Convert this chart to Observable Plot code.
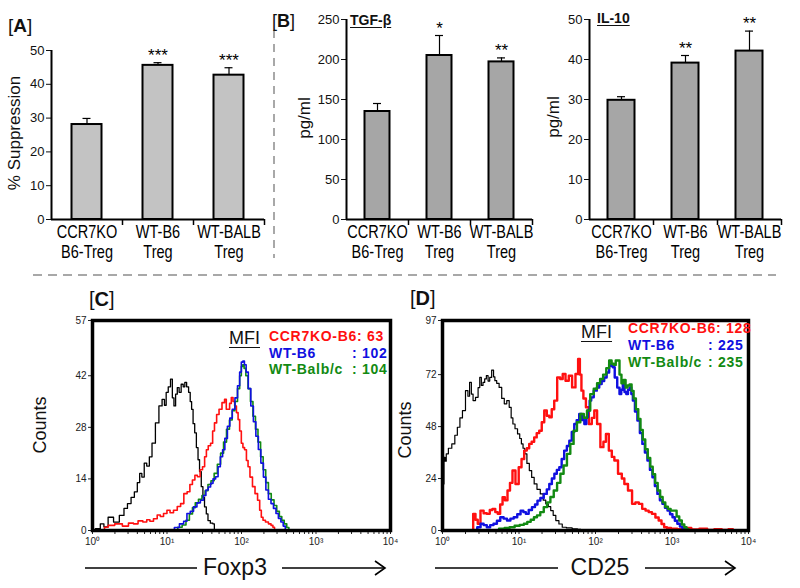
<!DOCTYPE html>
<html><head><meta charset="utf-8">
<script src="https://cdn.jsdelivr.net/npm/d3@7"></script>
<script src="https://cdn.jsdelivr.net/npm/@observablehq/plot@0.6"></script>
<style>
html,body{margin:0;padding:0;background:#fff;}
#root{position:relative;width:800px;height:588px;overflow:hidden;font-family:"Liberation Sans",Arial,sans-serif;color:#111;}
.p{position:absolute;}
.t{position:absolute;white-space:nowrap;line-height:1;}
</style></head><body><div id="root"></div>
<script>
// ---------- data ----------
const catLine1 = ["CCR7KO", "WT-B6", "WT-BALB"];
const catLine2 = ["B6-Treg", "Treg", "Treg"];

const suppression = [28.1, 45.6, 42.7];
const suppressionErr = [1.8, 0.8, 2.2];
const suppressionStars = ["", "***", "***"];

const tgfb = [135, 205, 197];
const tgfbErr = [10, 25, 5];
const tgfbStars = ["", "*", "**"];

const il10 = [29.8, 39.1, 42.1];
const il10Err = [0.9, 1.9, 5.0];
const il10Stars = ["", "**", "**"];

const yTicksA = [0, 10, 20, 30, 40, 50];
const yTicksTGF = [0, 50, 100, 150, 200, 250];
const yTicksIL = [0, 10, 20, 30, 40, 50];

// flow cytometry histograms: [fluorescence, counts]
const foxp3Isotype = [[1,0],[1.2,0.5],[1.35,1.8],[1.5,1],[1.75,3.6],[2.1,2.3],[2.5,4.1],[2.8,6],[3.1,7.3],[3.5,9],[3.8,10.5],[4.2,13],[4.4,15.5],[4.8,14.5],[5.1,18.3],[5.6,17.5],[6,20],[6.6,23.7],[7.4,29.2],[8.2,33.8],[9,35.6],[9.5,34],[10,37.5],[10.8,39],[11.5,41.1],[12.1,36],[12.7,33.8],[13.4,37],[14.1,38.8],[15,37.5],[16,39.7],[17,39],[17.7,40.2],[19,39],[20,37.5],[21,35],[21.8,32.9],[23,29],[24.1,26.5],[25.5,22.5],[26.7,19.2],[28,16],[29.7,11.9],[31,9],[32.8,6.4],[34.6,4.5],[36.4,2.7],[40,2],[42.5,1.8],[44,0]];
const foxp3CCR7KO = [[1.4,0],[1.5,0.9],[1.75,1.4],[2.26,1.8],[2.8,1.2],[3.3,2.0],[3.8,1.8],[4.4,2.6],[5.1,2.3],[5.6,2.9],[6.2,2.5],[7,3.2],[7.8,4.2],[8.5,3.8],[9.5,4.6],[10.5,5.5],[11.5,4.8],[13,5.5],[14.5,6.5],[16,7.3],[17.7,10],[19.6,10.5],[21,12.5],[22.9,13.7],[24.5,15],[26.7,14.6],[29,16.5],[31,17.3],[33,20],[34.6,21.9],[37,23],[40,23.7],[42,27],[44.8,29.2],[48,31.5],[52,32.9],[57.6,34.7],[61,35.6],[64,32.9],[67.5,32.9],[71,34.5],[75,36.1],[79,35],[83,33.8],[88,32],[92,30.1],[97,27],[102,23.7],[107,22.5],[113,21.9],[120,19],[125,17.3],[135,14.5],[146,11.9],[158,10],[171,8.2],[180,5.5],[189,3.6],[200,2.8],[220,2.3],[240,1.8],[258,1.4],[270,0.9],[285,0]];
const foxp3WTB6 = [[11.7,0],[13.5,0.8],[16,1.8],[17.5,2.5],[19.6,4.6],[21.5,5.2],[24,6.4],[26.5,7.5],[29.7,8.2],[32,9.5],[34.6,11],[37,11.8],[40,12.8],[43,14],[47,14.6],[50,17.3],[54,20],[57.6,21.9],[62,25],[67.5,28.3],[72,30.5],[78.6,32.9],[85,36],[92,39.3],[97,43],[102,45.7],[107,46],[112,45],[119,43],[128,38.5],[139,33.8],[150,29.5],[162,25.6],[175,22],[189,18.3],[205,14.5],[220,11],[240,8.5],[258,7.3],[280,6],[301,4.6],[325,3.3],[351,2.3],[375,1.2],[400,0]];
const foxp3WTBalb = [[13,0],[15,0.9],[17,1.5],[19,2.8],[21,4.5],[23,6.2],[25,7.5],[28,8.5],[31,9.5],[34,10.8],[37,12.5],[41,13.5],[45,15.5],[50,18],[55,21],[60,24],[66,27.5],[72,30],[78,32.5],[85,35],[92,38.5],[97,42],[102,44.5],[106,45],[111,44],[118,42],[127,38.5],[137,35],[148,31],[160,27.5],[173,24],[188,20],[203,16.5],[220,13],[240,10],[262,8.3],[285,6.8],[310,5.2],[335,3.8],[360,2.8],[390,1.8],[420,0.8],[445,0]];

const cd25Isotype = [[1,0],[1.01,79],[1.03,21.5],[1.06,33.8],[1.1,32],[1.14,35.4],[1.25,38],[1.4,40],[1.5,44],[1.63,47.7],[1.75,52],[1.9,55.4],[2.1,64.6],[2.2,62],[2.32,68.4],[2.45,63],[2.57,60],[2.84,61.5],[3.0,66],[3.14,70.7],[3.3,67],[3.47,68.4],[3.65,70],[3.84,71.5],[4.05,69],[4.24,70.7],[4.55,74.1],[4.75,71],[4.93,69.2],[5.3,68],[5.7,66.1],[6.2,61],[6.65,58.5],[7.2,60],[7.7,56.9],[8.1,52],[8.55,49.2],[9.2,47],[9.95,44.6],[10.5,42.5],[11,40],[11.6,38],[12.2,35.4],[13.2,31],[14.1,27.7],[15.2,24.5],[16.4,21.5],[18,19],[20,16.9],[21.5,14],[23.3,12.3],[25,11],[27,9.2],[29,7],[31.6,4.6],[35,3],[38.6,1.5],[45,1.2],[54.6,0.8],[62,0.5],[67,0]];
const cd25CCR7KO = [[2.44,0],[2.6,7.7],[2.8,5],[2.98,3.1],[3.3,9.2],[3.6,8],[4,7.7],[4.3,9.5],[4.7,10],[5.1,8.5],[5.45,7.7],[5.9,12],[6.3,15.4],[6.8,14],[7.36,18.5],[7.9,22],[8.55,27.7],[9.45,21.5],[10.4,29.2],[11.2,33],[12.2,36.9],[13.1,38],[14.1,40],[15.2,41],[16.4,43],[17.7,45],[19.1,46.1],[20.6,50],[22.2,55.4],[24,53],[25.8,52.3],[27.8,56],[30,60],[33.2,70.7],[36,70],[38.6,72.3],[42.6,69.2],[47,71.5],[52,66.1],[57.6,72.3],[61,79.2],[64,72],[67,64.6],[72,61],[78,56.9],[86,49.2],[93,52],[100,55.4],[110,49.2],[122,38.5],[132,41],[142,44.6],[157,36.9],[170,34],[183,32.3],[212,26.2],[230,24],[247,21.5],[286,18.5],[316,12.3],[350,13],[387,12.3],[430,10],[473,9.2],[520,8.5],[575,7.7],[640,6],[700,4.6],[760,3],[820,1.5],[900,1.2],[1050,0.8],[1300,0.6],[1600,1.2],[2000,0.5],[2600,0.8],[3200,0.3],[4000,0.6],[5000,0.3],[6000,0.6],[6500,0]];
const cd25WTB6 = [[2.7,0],[3,1.5],[3.3,3.1],[3.6,2.5],[4,1.5],[4.4,2.5],[4.9,3.1],[5.4,4.5],[6,6.1],[6.6,5.5],[7.36,4.6],[8.1,5.5],[9,6.1],[10,7.5],[11,9.2],[11.8,8.5],[12.8,7.7],[14,9.5],[15.6,10.8],[16.8,12],[18.1,13.8],[20,15],[22.2,16.9],[24,19],[25.8,21.5],[28,24],[30,26.2],[32.5,28],[34.8,29.2],[37.5,33],[40.5,36.9],[44,39],[47,41.5],[51,45.5],[54.6,49.2],[59,51],[63.6,53.8],[69,51],[74,49.2],[78,52.3],[81.7,55.4],[86,60],[90,61.5],[100,64.6],[108,66],[116,67.7],[125,69],[135,70.7],[145,73],[157,76.9],[165,76],[172,75.4],[185,70.7],[200,66],[212,63],[222,65],[233,67.7],[246,64],[259,63],[273,65],[288,66.1],[300,63],[316,60],[340,55],[366,50.8],[395,45],[425,40],[460,36],[495,32.3],[535,28],[575,24.6],[620,20.5],[669,16.9],[720,14],[779,12.3],[840,10.5],[907,9.2],[980,7.5],[1050,6.1],[1130,4.5],[1220,3.1],[1320,1.8],[1420,0.8],[1500,0]];
const cd25WTBalb = [[5,0],[6,0.8],[7,1.2],[8.1,1.5],[9.5,2.2],[11,2.6],[12.2,3.1],[13.5,4],[15,5],[16.4,6.1],[18,7],[20,8.5],[22.2,10.8],[24.5,13],[27,15.5],[30,18.5],[33,22],[36.6,26.2],[40,30],[44.8,35.4],[49,40],[54.6,46.1],[60,50],[67,53.8],[74,52],[81,55.4],[90,63],[100,65.5],[110,68],[120,70],[132,72],[145,75],[157,78.5],[168,77],[178,76.5],[190,78.5],[200,78.5],[212,72],[225,68],[240,69.5],[255,66],[270,67],[288,67.5],[305,64.5],[325,61],[350,56],[375,51.5],[400,46.5],[430,42],[465,37.5],[500,33.5],[540,29.5],[580,26],[625,22],[675,18.5],[725,15.5],[785,13],[850,11],[920,10],[1000,9.2],[1100,9.2],[1200,6.5],[1290,4.6],[1400,2.8],[1500,1.5],[1600,0.6],[1700,0]];

const logTicks = [1,2,3,4,5,6,7,8,9,10,20,30,40,50,60,70,80,90,100,200,300,400,500,600,700,800,900,1000,2000,3000,4000,5000,6000,7000,8000,9000,10000];
const logTickLabels = {1: "10⁰", 10: "10¹", 100: "10²", 1000: "10³", 10000: "10⁴"};
const yTicksFoxp3 = [0, 14, 28, 42, 57];
const yTicksCD25 = [0, 24, 48, 72, 97];

const mfiFoxp3 = [["CCR7KO-B6: 63", ""], ["WT-B6", ": 102"], ["WT-Balb/c", ": 104"]];
const mfiCD25 = [["CCR7KO-B6: 128", ""], ["WT-B6", ": 225"], ["WT-Balb/c", ": 235"]];

// ---------- helpers ----------
const root = document.getElementById("root");
const FONT = '"Liberation Sans", Arial, sans-serif';
const labelSet = new Set([...catLine1, ...catLine2]);

function place(node, left, top) {
  const d = document.createElement("div");
  d.className = "p";
  d.style.left = left + "px";
  d.style.top = top + "px";
  d.appendChild(node);
  root.appendChild(d);
}
function addText(html, x, baseline, fs, style = {}) {
  const el = document.createElement("div");
  el.className = "t";
  el.innerHTML = html;
  el.style.left = x + "px";
  el.style.top = (baseline - 0.8465 * fs) + "px";
  el.style.fontSize = fs + "px";
  Object.assign(el.style, style);
  root.appendChild(el);
  return el;
}
function addRotated(text, cx, cy, fs) {
  const el = document.createElement("div");
  el.className = "t";
  el.textContent = text;
  el.style.left = cx + "px";
  el.style.top = cy + "px";
  el.style.fontSize = fs + "px";
  el.style.transform = "translate(-50%,-50%) rotate(-90deg)";
  root.appendChild(el);
}
// narrow the category labels horizontally (the original uses a condensed face)
function condense(svg, k) {
  d3.select(svg).selectAll("text").filter(function () { return labelSet.has(this.textContent); }).each(function () {
    let t = this.getAttribute("transform");
    if (!t) {
      const x = +this.getAttribute("x") || 0, y = +this.getAttribute("y") || 0;
      this.removeAttribute("x"); this.removeAttribute("y");
      t = `translate(${x},${y})`;
    }
    this.setAttribute("transform", t + ` scale(${k},1)`);
  });
  return svg;
}

function barPanel({values, errs, stars, yDomain, yTicks, fill, width, height, marginLeft, marginRight, marginTop, marginBottom, barWidth}) {
  const data = catLine1.map((c, i) => ({cat: c, line2: catLine2[i], v: values[i], top: values[i] + errs[i], star: stars[i]}));
  const step = (width - marginLeft - marginRight) / catLine1.length;
  const inset = (step - barWidth) / 2;
  const capInset = (step - 8) / 2;
  const svg = Plot.plot({
    width, height, marginLeft, marginRight, marginTop, marginBottom,
    style: {background: "transparent", fontFamily: FONT, fontSize: "13px", color: "#111", overflow: "visible", maxWidth: "none"},
    x: {domain: catLine1, padding: 0, axis: null},
    y: {domain: yDomain, ticks: yTicks, tickSize: 5, tickPadding: 2, label: null},
    marks: [
      Plot.barY(data, {x: "cat", y: "v", fill, stroke: "#000", strokeWidth: 2, insetLeft: inset, insetRight: inset}),
      Plot.ruleX(data, {x: "cat", y1: "v", y2: "top", stroke: "#000", strokeWidth: 1.2}),
      Plot.tickY(data, {x: "cat", y: "top", insetLeft: capInset, insetRight: capInset, stroke: "#000", strokeWidth: 1.2}),
      Plot.text(data, {x: "cat", y: "top", text: "star", dy: -2, lineAnchor: "bottom", fontSize: 17, fill: "#000"}),
      Plot.ruleY([yDomain[0]], {stroke: "#000", strokeWidth: 2}),
      Plot.ruleX([catLine1[0]], {y1: yDomain[0], y2: yDomain[1], dx: -step / 2, stroke: "#000", strokeWidth: 2}),
      Plot.ruleX(catLine1, {y1: yDomain[0], y2: yDomain[0], dx: step / 2, insetBottom: -6, stroke: "#000", strokeWidth: 1.5}),
      Plot.text(data, {x: "cat", y: yDomain[0], text: "cat", dy: 13, fontSize: 17.5, fill: "#000"}),
      Plot.text(data, {x: "cat", y: yDomain[0], text: "line2", dy: 33, fontSize: 17.5, fill: "#000"})
    ]
  });
  return condense(svg, 0.83);
}

function histPanel({curves, yMax, yTicks, width, marginLeft, marginRight}) {
  return Plot.plot({
    width, height: 270, marginLeft, marginRight, marginTop: 30, marginBottom: 30,
    style: {background: "transparent", fontFamily: FONT, fontSize: "10px", color: "#222", overflow: "visible", maxWidth: "none"},
    x: {type: "log", domain: [1, 10000], ticks: logTicks, tickFormat: (d) => logTickLabels[d] || "", tickSize: 4, tickPadding: 3, label: null},
    y: {domain: [0, yMax], ticks: yTicks, tickSize: 4, tickPadding: 2, label: null},
    marks: [
      ...curves.map((c) => Plot.line(c.data, {x: (d) => d[0], y: (d) => d[1], curve: "step", stroke: c.color, strokeWidth: c.w})),
      Plot.frame({stroke: "#000", strokeWidth: 3.5})
    ]
  });
}

// ---------- top row ----------
place(barPanel({values: suppression, errs: suppressionErr, stars: suppressionStars, yDomain: [0, 50], yTicks: yTicksA, fill: "#c3c3c3",
  width: 270, height: 270, marginLeft: 51, marginRight: 6, marginTop: 50, marginBottom: 51, barWidth: 30}), 0, 0);
place(barPanel({values: tgfb, errs: tgfbErr, stars: tgfbStars, yDomain: [0, 250], yTicks: yTicksTGF, fill: "#a6a6a6",
  width: 270, height: 270, marginLeft: 76, marginRight: 8, marginTop: 19, marginBottom: 51, barWidth: 25}), 270, 0);
place(barPanel({values: il10, errs: il10Err, stars: il10Stars, yDomain: [0, 50], yTicks: yTicksIL, fill: "#a6a6a6",
  width: 260, height: 270, marginLeft: 49, marginRight: 19, marginTop: 19, marginBottom: 51, barWidth: 27}), 540, 0);

// ---------- bottom row ----------
const RED = "#ff1010", BLUE = "#1010e0", GREEN = "#128a12";
place(histPanel({curves: [
    {data: foxp3Isotype, color: "#000", w: 1.3},
    {data: foxp3CCR7KO, color: RED, w: 1.6},
    {data: foxp3WTBalb, color: GREEN, w: 1.6},
    {data: foxp3WTB6, color: BLUE, w: 1.6}
  ], yMax: 57, yTicks: yTicksFoxp3, width: 400, marginLeft: 92, marginRight: 10}), 0, 290);
place(histPanel({curves: [
    {data: cd25Isotype, color: "#000", w: 1.2},
    {data: cd25CCR7KO, color: RED, w: 2.4},
    {data: cd25WTB6, color: BLUE, w: 2.4},
    {data: cd25WTBalb, color: GREEN, w: 2.4}
  ], yMax: 97, yTicks: yTicksCD25, width: 410, marginLeft: 92, marginRight: 12}), 350, 290);

// ---------- decorations (separators, arrows) ----------
const NS = "http://www.w3.org/2000/svg";
const deco = document.createElementNS(NS, "svg");
deco.setAttribute("width", 800); deco.setAttribute("height", 588);
deco.style.cssText = "position:absolute;left:0;top:0;pointer-events:none";
deco.innerHTML = `
  <line x1="274" y1="30" x2="274" y2="258" stroke="#a8a8a8" stroke-width="2" stroke-dasharray="8 6"/>
  <line x1="33" y1="275" x2="776" y2="275" stroke="#a8a8a8" stroke-width="2" stroke-dasharray="9 6"/>
  <g stroke="#000" stroke-width="1.6" fill="none">
    <line x1="85" y1="568" x2="197" y2="568"/><line x1="282" y1="568" x2="385" y2="568"/>
    <polyline points="375,561 385,568 375,575"/>
    <line x1="435" y1="568" x2="558" y2="568"/><line x1="645" y1="568" x2="735" y2="568"/>
    <polyline points="725,561 735,568 725,575"/>
  </g>`;
root.appendChild(deco);

// ---------- texts ----------
addText("[<b>A</b>]", 8, 32, 19);
addText("[<b>B</b>]", 272, 27.5, 18);
addText("TGF-β", 350, 25, 14, {fontWeight: "bold", textDecoration: "underline", textUnderlineOffset: "2px"});
addText("IL-10", 597, 22.5, 14, {fontWeight: "bold", textDecoration: "underline", textUnderlineOffset: "2px"});
addRotated("% Suppression", 14, 133, 17);
addRotated("pg/ml", 304, 118, 17);
addRotated("pg/ml", 553, 117, 17);
addText("[<b>C</b>]", 89, 306, 20);
addText("[<b>D</b>]", 410, 305, 20);
addRotated("Counts", 40, 425, 18);
addRotated("Counts", 405, 430, 18);
addText("Foxp3", 235, 575, 23, {transform: "translateX(-50%)"});
addText("CD25", 600, 575, 23, {transform: "translateX(-50%)"});

const legendColors = [RED, BLUE, GREEN];
const legStyle = (i) => ({fontWeight: "bold", color: legendColors[i], letterSpacing: "0.7px"});
addText("MFI", 229, 344, 18, {textDecoration: "underline", textUnderlineOffset: "3px"});
mfiFoxp3.forEach(([a, b], i) => {
  addText(a, 269, 341 + i * 16.5, 14, legStyle(i));
  if (b) addText(b, 352, 341 + i * 16.5, 14, legStyle(i));
});
addText("MFI", 581, 338, 18, {textDecoration: "underline", textUnderlineOffset: "3px"});
mfiCD25.forEach(([a, b], i) => {
  addText(a, 628, 333 + i * 17, 14, legStyle(i));
  if (b) addText(b, 708, 333 + i * 17, 14, legStyle(i));
});
</script></body></html>
